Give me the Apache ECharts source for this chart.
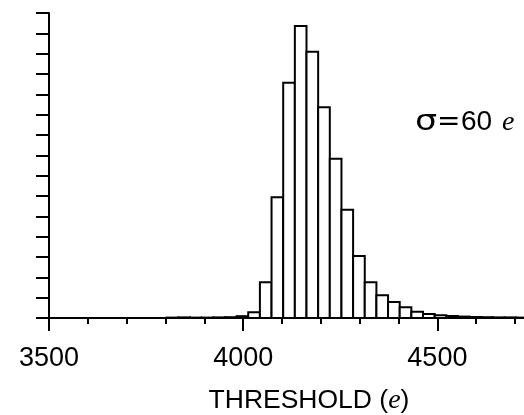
<!DOCTYPE html>
<html>
<head>
<meta charset="utf-8">
<script src="https://cdn.jsdelivr.net/npm/echarts@6/dist/echarts.min.js"></script>
<style>html,body{margin:0;padding:0;background:#fff;}#c{width:524px;height:415px;}</style>
</head>
<body>
<div id="c"></div>
<script>
// Histogram bins (start of each 30 e bin) and heights in y-tick units
const binStarts = [3803,3833,3863,3893,3923,3953,3983,4013,4043,4073,4103,4133,4163,4193,4223,4253,4283,4313,4343,4373,4403,4433,4463,4493,4523,4553,4583,4613,4643,4673,4703];
const binWidth = 30;
const counts = [0.02,0.03,0.02,0.02,0.03,0.04,0.09,0.28,1.76,5.94,11.57,14.36,13.10,10.37,7.83,5.32,3.05,1.76,1.12,0.79,0.53,0.31,0.20,0.13,0.10,0.07,0.05,0.04,0.03,0.03,0.02];
const majorTicks = [3500, 4000, 4500];
const minorTicks = [3600, 3700, 3800, 3900, 4100, 4200, 4300, 4400, 4600, 4700];
const xMin = 3500, xMax = 4723;

const data = binStarts.map((s, i) => [s, s + binWidth, counts[i]]);

const chart = echarts.init(document.getElementById('c'), null, {renderer: 'canvas'});
const baseAxis = {
  type: 'value', min: xMin, max: xMax, position: 'bottom', gridIndex: 0,
  splitLine: {show: false}
};
chart.setOption({
  animation: false,
  backgroundColor: '#fff',
  grid: {left: 49, top: 13, bottom: 97, right: 0, containLabel: false},
  xAxis: [
    Object.assign({}, baseAxis, {
      axisLine: {show: true, onZero: false, lineStyle: {color: '#000', width: 2}},
      axisTick: {show: true, inside: false, length: 13, customValues: majorTicks, lineStyle: {color: '#000', width: 2}},
      axisLabel: {show: true, margin: 27, color: '#000', fontSize: 27, fontFamily: 'Liberation Sans',
        customValues: majorTicks, formatter: v => String(v)}
    }),
    Object.assign({}, baseAxis, {
      axisLine: {show: false, onZero: false},
      axisTick: {show: true, inside: false, length: 6, customValues: minorTicks, lineStyle: {color: '#000', width: 2}},
      axisLabel: {show: false}
    })
  ],
  yAxis: {
    type: 'value', min: 0, max: 15, interval: 1,
    axisLine: {show: true, lineStyle: {color: '#000', width: 2}},
    axisTick: {show: true, inside: false, length: 13, lineStyle: {color: '#000', width: 2}},
    axisLabel: {show: false},
    splitLine: {show: false}
  },
  graphic: [
    {
      type: 'text', x: 309, y: 401,
      style: {
        text: '{a|THRESHOLD (}{e|e}{a|)}',
        textAlign: 'center', textVerticalAlign: 'middle',
        rich: {
          a: {fontFamily: 'Liberation Sans', fontSize: 26.5, fill: '#000'},
          e: {fontFamily: 'Liberation Serif', fontStyle: 'italic', fontSize: 28, fill: '#000'}
        }
      }
    },
    {type: 'text', x: 415, y: 108.5, scaleX: 1.25,
      style: {text: 'σ', font: '28px "DejaVu Sans"', fill: '#000', textAlign: 'left', textVerticalAlign: 'alphabetic'}},
    {type: 'text', x: 437, y: 108.5,
      style: {text: '=', font: '28px "DejaVu Sans"', fill: '#000', textAlign: 'left', textVerticalAlign: 'alphabetic'}},
    {type: 'text', x: 461, y: 108.5,
      style: {text: '60', font: '28px "Liberation Sans"', fill: '#000', textAlign: 'left', textVerticalAlign: 'alphabetic'}},
    {type: 'text', x: 502, y: 108.5,
      style: {text: 'e', font: 'italic 28px "Liberation Serif"', fill: '#000', textAlign: 'left', textVerticalAlign: 'alphabetic'}}
  ],
  series: [{
    type: 'custom',
    xAxisIndex: 0,
    clip: true,
    data: data,
    encode: {x: [0, 1], y: 2},
    renderItem: function (params, api) {
      const p0 = api.coord([api.value(0), 0]);
      const p1 = api.coord([api.value(1), api.value(2)]);
      return {
        type: 'rect',
        shape: {x: p0[0], y: p1[1], width: p1[0] - p0[0], height: p0[1] - p1[1]},
        style: {fill: '#fff', stroke: '#000', lineWidth: 2}
      };
    }
  }]
});
</script>
</body>
</html>
